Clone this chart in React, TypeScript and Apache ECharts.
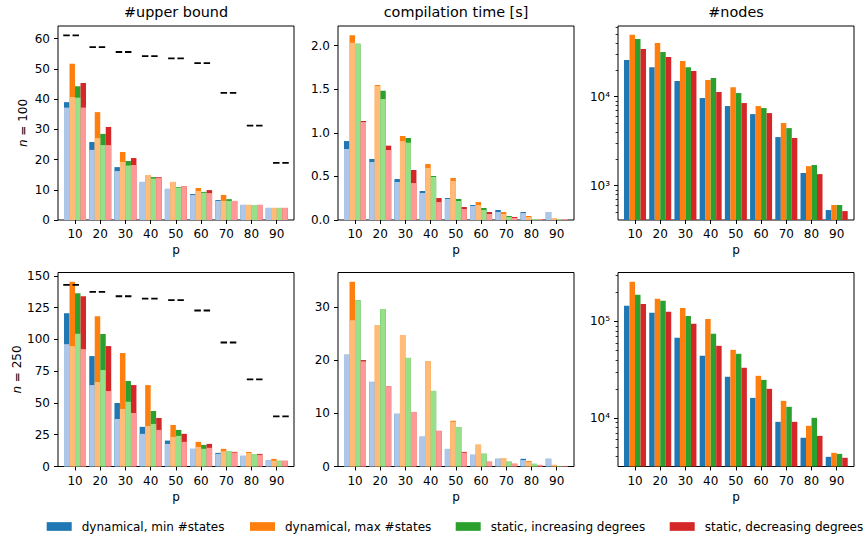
import { useEffect, useRef } from 'react';
import * as echarts from 'echarts';

// ---- data -------------------------------------------------------------
const P = [10, 20, 30, 40, 50, 60, 70, 80, 90];

const METHODS = [
  'dynamical, min #states',
  'dynamical, max #states',
  'static, increasing degrees',
  'static, decreasing degrees',
];

// #upper bound, n = 100 (full value / lower part)
const ub100MinFull = [39.0, 25.8, 17.5, 12.6, 10.3, 8.6, 6.6, 5.0, 4.0];
const ub100MinPart = [37.2, 23.2, 16.2, 12.6, 10.3, 8.3, 6.3, 5.0, 4.0];
const ub100MaxFull = [51.7, 35.7, 22.5, 14.9, 12.6, 10.6, 8.3, 5.0, 4.0];
const ub100MaxPart = [40.7, 27.1, 19.2, 14.9, 12.6, 9.6, 6.3, 5.0, 4.0];
const ub100IncFull = [44.3, 28.5, 19.5, 14.2, 10.9, 9.3, 6.9, 5.0, 4.0];
const ub100IncPart = [40.5, 24.8, 18.0, 13.7, 10.7, 9.0, 6.3, 5.0, 4.0];
const ub100DecFull = [45.3, 30.8, 20.5, 14.2, 11.2, 9.9, 6.3, 5.0, 4.0];
const ub100DecPart = [37.2, 24.8, 18.2, 14.0, 11.2, 8.9, 6.3, 5.0, 4.0];
const bound100 = [61.1, 57.2, 55.6, 54.2, 53.5, 51.9, 42.1, 31.2, 18.9];

// #upper bound, n = 250
const ub250MinFull = [120.7, 86.9, 50.0, 31.2, 20.4, 13.9, 10.7, 8.4, 4.7];
const ub250MinPart = [96.3, 64.1, 37.4, 25.7, 17.8, 13.9, 9.9, 8.4, 4.7];
const ub250MaxFull = [145.4, 118.3, 89.3, 64.1, 32.7, 19.4, 13.9, 11.5, 6.0];
const ub250MaxPart = [94.8, 66.5, 45.3, 31.9, 23.3, 15.4, 12.0, 10.7, 4.5];
const ub250IncFull = [136.4, 104.2, 67.3, 43.7, 28.8, 17.0, 11.8, 9.9, 4.5];
const ub250IncPart = [104.5, 75.9, 51.0, 33.5, 24.1, 13.9, 11.8, 9.9, 4.5];
const ub250DecFull = [134.0, 94.8, 64.1, 38.2, 25.7, 17.8, 11.5, 9.9, 4.5];
const ub250DecPart = [92.4, 59.4, 42.1, 28.8, 19.4, 14.7, 11.0, 9.2, 4.5];
const bound250 = [142.9, 137.4, 134.0, 132.2, 130.9, 122.8, 97.6, 68.6, 39.5];

// compilation time [s], n = 100
const t100MinFull = [0.906, 0.700, 0.470, 0.333, 0.252, 0.172, 0.115, 0.092, 0.092];
const t100MinPart = [0.815, 0.665, 0.436, 0.310, 0.241, 0.161, 0.092, 0.080, 0.092];
const t100MaxFull = [2.12, 1.549, 0.964, 0.642, 0.482, 0.206, 0.092, 0.046, 0.023];
const t100MaxPart = [2.034, 1.537, 0.906, 0.597, 0.447, 0.172, 0.069, 0.034, 0.023];
const t100IncFull = [2.023, 1.484, 0.941, 0.505, 0.241, 0.138, 0.046, 0.011, 0.011];
const t100IncPart = [2.023, 1.388, 0.887, 0.493, 0.218, 0.115, 0.034, 0.011, 0.011];
const t100DecFull = [1.136, 0.853, 0.574, 0.252, 0.149, 0.092, 0.034, 0.011, 0.011];
const t100DecPart = [1.124, 0.803, 0.424, 0.206, 0.126, 0.069, 0.023, 0.011, 0.011];

// compilation time [s], n = 250
const t250MinFull = [21.0, 15.9, 9.9, 5.6, 3.3, 2.2, 1.45, 1.45, 1.45];
const t250MinPart = [21.0, 15.9, 9.9, 5.6, 3.3, 2.2, 1.45, 1.2, 1.45];
const t250MaxFull = [34.7, 26.6, 24.7, 19.8, 8.6, 4.1, 1.6, 1.05, 0.3];
const t250MaxPart = [27.5, 26.6, 24.7, 19.8, 8.4, 4.1, 1.6, 0.9, 0.3];
const t250IncFull = [31.25, 29.6, 20.4, 14.2, 7.4, 2.4, 0.9, 0.5, 0.1];
const t250IncPart = [31.25, 29.6, 20.4, 14.2, 7.4, 2.4, 0.9, 0.5, 0.1];
const t250DecFull = [20.0, 15.1, 10.25, 6.7, 2.75, 0.9, 0.5, 0.3, 0.1];
const t250DecPart = [19.75, 15.1, 10.25, 6.7, 2.6, 0.9, 0.5, 0.3, 0.1];

// #nodes
const nodes100Min = [25800, 21500, 15000, 9660, 7850, 6380, 3520, 1390, 533];
const nodes100Max = [49800, 40100, 25200, 15400, 12800, 7850, 5060, 1660, 607];
const nodes100Inc = [44500, 31800, 21500, 16200, 11000, 7460, 4440, 1710, 607];
const nodes100Dec = [34300, 27900, 19400, 11300, 8490, 6550, 3440, 1350, 519];
const nodes250Min = [145000, 123000, 67800, 44200, 26800, 16200, 9160, 6270, 3980];
const nodes250Max = [257000, 172000, 138000, 106000, 50900, 27400, 15100, 8330, 4380];
const nodes250Inc = [189000, 164000, 114000, 74500, 46300, 24900, 13100, 10080, 4270];
const nodes250Dec = [152000, 126000, 94600, 56000, 33200, 20100, 9160, 6560, 3890];

// axis ticks
const ubTicks100 = [0, 10, 20, 30, 40, 50, 60];
const ubTicks250 = [0, 25, 50, 75, 100, 125, 150];
const tTicks100 = [0, 0.5, 1.0, 1.5, 2.0];
const tTicks250 = [0, 10, 20, 30];
const logMajor100 = [1000, 10000];
const logMinor100 = [500, 600, 700, 800, 900, 2000, 3000, 4000, 5000, 6000, 7000, 8000, 9000, 20000, 30000, 40000, 50000, 60000];
const logMajor250 = [10000, 100000];
const logMinor250 = [4000, 5000, 6000, 7000, 8000, 9000, 20000, 30000, 40000, 50000, 60000, 70000, 80000, 90000, 200000, 300000];

const TITLES = ['#upper bound', 'compilation time [s]', '#nodes'];
const ROW_NAMES = ['100', '250'];

// ---- styling ----------------------------------------------------------
const FONT = 'DejaVu Sans';
const DARK = ['#1f77b4', '#ff7f0e', '#2ca02c', '#d62728'];
const LIGHT = ['#aec7e8', '#ffbb78', '#98df8a', '#ff9896'];
const GRID_LEFT = [58, 338, 618];
const GRID_TOP = [26, 272.5];
const GRID_W = 236;
const GRID_H = 194;
const X_MIN = 3.25;
const X_MAX = 96.85;
const BAR_W = 5.5;
const LEGEND_X = [46.7, 250, 455.7, 669.7];

type Panel = {
  row: number;
  col: number;
  full: number[][];
  part: number[][] | null;
  bound: number[] | null;
  yType: 'value' | 'log';
  yMin: number;
  yMax: number;
  ticks: number[];
  minor?: number[];
  fmt?: (v: number) => string;
};

const SUP: Record<string, string> = { '0': '⁰', '1': '¹', '2': '²', '3': '³', '4': '⁴', '5': '⁵', '6': '⁶', '7': '⁷', '8': '⁸', '9': '⁹' };
const powLabel = (v: number) => '10' + String(Math.round(Math.log10(v))).split('').map((d) => SUP[d]).join('');

const PANELS: Panel[] = [
  {
    row: 0, col: 0,
    full: [ub100MinFull, ub100MaxFull, ub100IncFull, ub100DecFull],
    part: [ub100MinPart, ub100MaxPart, ub100IncPart, ub100DecPart],
    bound: bound100, yType: 'value', yMin: 0, yMax: 64.2, ticks: ubTicks100,
  },
  {
    row: 0, col: 1,
    full: [t100MinFull, t100MaxFull, t100IncFull, t100DecFull],
    part: [t100MinPart, t100MaxPart, t100IncPart, t100DecPart],
    bound: null, yType: 'value', yMin: 0, yMax: 2.226, ticks: tTicks100,
    fmt: (v) => v.toFixed(1),
  },
  {
    row: 0, col: 2,
    full: [nodes100Min, nodes100Max, nodes100Inc, nodes100Dec],
    part: null, bound: null, yType: 'log', yMin: 412, yMax: 62300,
    ticks: logMajor100, minor: logMinor100, fmt: powLabel,
  },
  {
    row: 1, col: 0,
    full: [ub250MinFull, ub250MaxFull, ub250IncFull, ub250DecFull],
    part: [ub250MinPart, ub250MaxPart, ub250IncPart, ub250DecPart],
    bound: bound250, yType: 'value', yMin: 0, yMax: 152.7, ticks: ubTicks250,
  },
  {
    row: 1, col: 1,
    full: [t250MinFull, t250MaxFull, t250IncFull, t250DecFull],
    part: [t250MinPart, t250MaxPart, t250IncPart, t250DecPart],
    bound: null, yType: 'value', yMin: 0, yMax: 36.45, ticks: tTicks250,
  },
  {
    row: 1, col: 2,
    full: [nodes250Min, nodes250Max, nodes250Inc, nodes250Dec],
    part: null, bound: null, yType: 'log', yMin: 3162, yMax: 321000,
    ticks: logMajor250, minor: logMinor250, fmt: powLabel,
  },
];

const textBase = { color: '#000', fontFamily: FONT, fontSize: 12 };

function buildOption() {
  const grid: any[] = [];
  const xAxis: any[] = [];
  const yAxis: any[] = [];
  const series: any[] = [];

  PANELS.forEach((pn, g) => {
    grid.push({
      left: GRID_LEFT[pn.col],
      top: GRID_TOP[pn.row],
      width: GRID_W,
      height: GRID_H,
      show: true,
      borderColor: '#000',
      borderWidth: 1,
      backgroundColor: 'transparent',
    });

    // main x axis (ticks, labels, name) carries the full-value bars
    const xMain = xAxis.length;
    xAxis.push({
      type: 'value', gridIndex: g, min: X_MIN, max: X_MAX, position: 'bottom',
      axisLine: { show: false },
      splitLine: { show: false },
      axisTick: { show: true, length: 4, lineStyle: { color: '#000', width: 1 }, customValues: P },
      axisLabel: { ...textBase, margin: 8, customValues: P },
      name: 'p', nameLocation: 'middle', nameGap: 24,
      nameTextStyle: { ...textBase },
    });
    // twin x axis for the overlaid lower-part bars
    const xPart = xAxis.length;
    xAxis.push({ type: 'value', gridIndex: g, min: X_MIN, max: X_MAX, show: false });
    // band axis for the bound markers
    let xBand = -1;
    if (pn.bound) {
      xBand = xAxis.length;
      xAxis.push({ type: 'value', gridIndex: g, min: 0, max: P.length, show: false });
    }

    const yMain = yAxis.length;
    yAxis.push({
      type: pn.yType, gridIndex: g, min: pn.yMin, max: pn.yMax, position: 'left',
      axisLine: { show: false },
      splitLine: { show: false },
      axisTick: { show: true, length: 4, lineStyle: { color: '#000', width: 1 }, customValues: pn.ticks },
      axisLabel: { ...textBase, margin: 8, customValues: pn.ticks, formatter: pn.fmt ?? ((v: number) => String(v)) },
      ...(pn.col === 0
        ? {
            name: `{i|n} = ${ROW_NAMES[pn.row]}`,
            nameLocation: 'middle', nameRotate: 90, nameGap: 29,
            nameTextStyle: { ...textBase, rich: { i: { ...textBase, fontStyle: 'italic' } } },
          }
        : {}),
    });
    if (pn.minor) {
      yAxis.push({
        type: 'log', gridIndex: g, min: pn.yMin, max: pn.yMax, position: 'left',
        axisLine: { show: false },
        splitLine: { show: false },
        axisLabel: { show: false },
        axisTick: { show: true, length: 2.4, lineStyle: { color: '#000', width: 0.8 }, customValues: pn.minor },
      });
    }

    pn.full.forEach((vals, m) => {
      series.push({
        type: 'bar', name: METHODS[m], xAxisIndex: xMain, yAxisIndex: yMain,
        data: P.map((p, i) => [p, vals[i]]),
        barWidth: BAR_W, barGap: '0%',
        itemStyle: { color: DARK[m] },
        silent: true,
      });
    });
    if (pn.part) {
      pn.part.forEach((vals, m) => {
        series.push({
          type: 'bar', name: `${METHODS[m]}, lower part`, xAxisIndex: xPart, yAxisIndex: yMain,
          data: P.map((p, i) => [p, vals[i]]),
          barWidth: BAR_W, barGap: '0%',
          itemStyle: { color: LIGHT[m] },
          silent: true,
        });
      });
    }
    if (pn.bound) {
      const pts: any[] = [];
      pn.bound.forEach((v, i) => {
        pts.push([i + 0.2, v], [i + 0.8, v], [i + 0.9, '-']);
      });
      series.push({
        type: 'line', name: 'bound', xAxisIndex: xBand, yAxisIndex: yMain,
        data: pts, showSymbol: false, symbol: 'none', connectNulls: false,
        lineStyle: { color: '#000', width: 1.8, type: [6.5, 2.8], cap: 'butt' },
        silent: true, z: 5,
      });
    }
  });

  const title = TITLES.map((t, c) => ({
    text: t,
    left: GRID_LEFT[c] + GRID_W / 2,
    top: 5,
    textAlign: 'center',
    padding: 0,
    textStyle: { color: '#000', fontFamily: FONT, fontSize: 14.4, fontWeight: 'normal' },
  }));

  const legend = METHODS.map((m, k) => ({
    data: [m],
    left: LEGEND_X[k],
    top: 520.5,
    padding: 0,
    icon: 'rect',
    itemWidth: 25,
    itemHeight: 8.7,
    selectedMode: false,
    textStyle: { ...textBase, padding: [0, 0, 0, 5] },
  }));

  return {
    animation: false,
    backgroundColor: '#fff',
    textStyle: { fontFamily: FONT },
    title,
    legend,
    grid,
    xAxis,
    yAxis,
    series,
  };
}

export default function App() {
  const ref = useRef<HTMLDivElement>(null);
  useEffect(() => {
    if (!ref.current) return;
    const chart = echarts.init(ref.current, null, { renderer: 'svg' });
    chart.setOption(buildOption() as any);
    return () => chart.dispose();
  }, []);
  return (
    <div
      ref={ref}
      style={{ position: 'absolute', left: 0, top: 0, width: 866, height: 534, background: '#fff' }}
    />
  );
}
